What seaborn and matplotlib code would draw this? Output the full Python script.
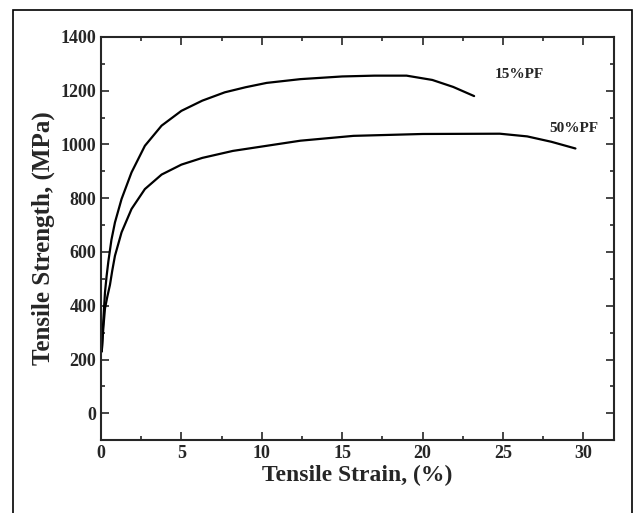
import numpy as np
import pandas as pd
import matplotlib
matplotlib.use("Agg")
import matplotlib.pyplot as plt
import seaborn as sns
from matplotlib.ticker import MultipleLocator
from matplotlib.patches import Rectangle

# values
strain_15 = [0.05, 0.15, 0.25, 0.35, 0.46, 0.65, 0.87, 1.28, 1.9, 2.73, 3.77, 5.0,
             6.3, 7.7, 9.0, 10.3, 12.4, 15.0, 17.0, 19.0, 20.6, 21.9, 23.2]
stress_15 = [230, 350, 450, 510, 565, 645, 710, 797, 896, 995, 1070, 1125,
             1163, 1194, 1213, 1229, 1243, 1253, 1256, 1256, 1240, 1214, 1180]

strain_50 = [0.05, 0.15, 0.25, 0.4, 0.56, 0.7, 0.87, 1.28, 1.9, 2.73, 3.77, 5.0,
             6.3, 8.2, 10.3, 12.4, 15.7, 20.0, 24.8, 26.5, 28.0, 29.5]
stress_50 = [230, 320, 390, 435, 478, 530, 586, 673, 760, 834, 888, 925,
             950, 976, 995, 1014, 1032, 1039, 1040, 1030, 1010, 985]

df = pd.concat([
    pd.DataFrame({"strain": strain_15, "stress": stress_15, "sample": "15%PF"}),
    pd.DataFrame({"strain": strain_50, "stress": stress_50, "sample": "50%PF"}),
])

sns.set_style("ticks")
plt.rcParams["font.family"] = ["Liberation Serif", "DejaVu Serif"]
plt.rcParams["font.weight"] = "bold"

fig = plt.figure(figsize=(6.35, 5.13), dpi=100)
ax = fig.add_axes([0.159, 0.142, 0.808, 0.786])

sns.lineplot(data=df, x="strain", y="stress", units="sample", estimator=None,
             sort=False, color="black", lw=1.6, ax=ax)

ax.text(24.5, 1262, "15%PF", fontsize=11, fontweight="bold", va="center")
ax.text(27.9, 1058, "50%PF", fontsize=11, fontweight="bold", va="center")

ax.set_xlim(0, 31.9)
ax.set_ylim(-100, 1400)
ax.xaxis.set_major_locator(MultipleLocator(5))
ax.xaxis.set_minor_locator(MultipleLocator(2.5))
ax.yaxis.set_major_locator(MultipleLocator(200))
ax.yaxis.set_minor_locator(MultipleLocator(100))
ax.tick_params(which="both", direction="in", top=True, right=True, labelsize=13, width=1.2)
ax.tick_params(which="major", length=6)
ax.tick_params(which="minor", length=3)
for lab in ax.get_xticklabels() + ax.get_yticklabels():
    lab.set_fontweight("bold")
for s in ax.spines.values():
    s.set_linewidth(1.5)

ax.set_xlabel("Tensile Strain, (%)", fontsize=17, fontweight="bold", labelpad=2)
ax.set_ylabel("Tensile Strength, (MPa)", fontsize=18, fontweight="bold", labelpad=4)

# outer frame around the picture
fig.patches.append(Rectangle((0.021, -0.01), 0.975, 0.99, transform=fig.transFigure,
                             fill=False, edgecolor="black", lw=1.2))

fig.savefig("out.png", dpi=100)
